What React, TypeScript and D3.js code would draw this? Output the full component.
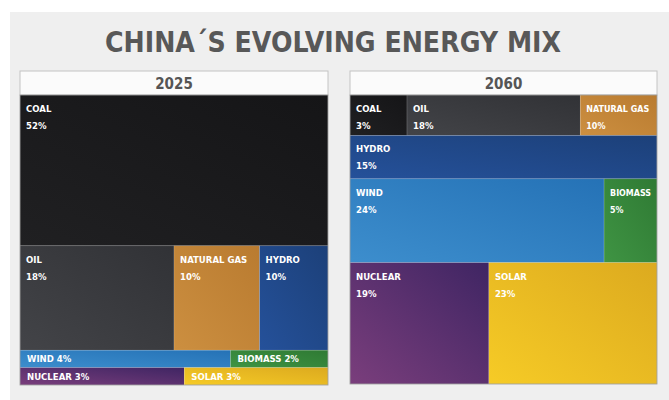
import React from "react";
import * as d3 from "d3";

const title = "CHINA´S EVOLVING ENERGY MIX";
const years = ["2025", "2060"];

const sources2025 = ["COAL", "OIL", "NATURAL GAS", "HYDRO", "WIND", "BIOMASS", "NUCLEAR", "SOLAR"];
const rows2025 = [0, 1, 1, 1, 2, 2, 3, 3];
const values2025 = [52, 18, 10, 8, 4.1, 1.9, 3.2, 2.8];
const labels2025 = ["52%", "18%", "10%", "10%", "4%", "2%", "3%", "3%"];

const sources2060 = ["COAL", "OIL", "NATURAL GAS", "HYDRO", "WIND", "BIOMASS", "NUCLEAR", "SOLAR"];
const rows2060 = [0, 0, 0, 1, 2, 2, 3, 3];
const values2060 = [2.6, 7.9, 3.5, 15, 24, 5, 19, 23];
const labels2060 = ["3%", "18%", "10%", "15%", "24%", "5%", "19%", "23%"];

const W = 669;
const H = 400;
const FONT = "'DejaVu Sans Condensed', 'Liberation Sans Narrow', sans-serif";

const colors: Record<string, [string, string]> = {
  COAL: ["#202022", "#151517"],
  OIL: ["#434448", "#313236"],
  "NATURAL GAS": ["#cc8f40", "#b97b30"],
  HYDRO: ["#25519a", "#1c4079"],
  WIND: ["#3d8ecd", "#2572b6"],
  BIOMASS: ["#3f9443", "#2f7a34"],
  NUCLEAR: ["#7a3e7c", "#3f2563"],
  SOLAR: ["#f6cb26", "#dcaa1f"],
};

type Tile = { name: string; value: number; label: string };

function buildRoot(sources: string[], rows: number[], values: number[], labels: string[]) {
  const nRows = d3.max(rows)! + 1;
  const rowArr: { children: Tile[] }[] = d3.range(nRows).map(() => ({ children: [] }));
  sources.forEach((s, i) => rowArr[rows[i]].children.push({ name: s, value: values[i], label: labels[i] }));
  return d3.hierarchy<any>({ children: rowArr }).sum((d: any) => d.value || 0);
}

const tile = (node: any, x0: number, y0: number, x1: number, y1: number) =>
  node.depth === 0 ? d3.treemapSlice(node, x0, y0, x1, y1) : d3.treemapDice(node, x0, y0, x1, y1);

function Panel({ x, y, w, h, year, sources, rows, values, labels, pid }: any) {
  const root = buildRoot(sources, rows, values, labels);
  d3.treemap<any>().size([w, h]).tile(tile as any).round(false)(root);
  const leaves = root.leaves() as any[];
  const headerH = 24;
  return (
    <g>
      <rect x={x} y={y - headerH} width={w} height={headerH} fill="#fbfbfb" stroke="#c4c4c4" strokeWidth={1} />
      <text x={x + w / 2} y={y - 6} textAnchor="middle" fontFamily={FONT} fontWeight="bold" fontSize={15} fill="#555">
        {year}
      </text>
      <g transform={`translate(${x},${y})`}>
        {leaves.map((l, i) => {
          const d = l.data as Tile;
          const tw = l.x1 - l.x0;
          const th = l.y1 - l.y0;
          const inline = th < 26;
          const gid = `g-${pid}-${i}`;
          let fs = 9.5;
          const need = d.name.length * 0.66 * fs;
          if (!inline && need > tw - 12) fs = (tw - 12) / (d.name.length * 0.66);
          return (
            <g key={i}>
              <defs>
                <linearGradient id={gid} x1="0" y1="1" x2="1" y2="0">
                  <stop offset="0" stopColor={colors[d.name][0]} />
                  <stop offset="1" stopColor={colors[d.name][1]} />
                </linearGradient>
              </defs>
              <rect x={l.x0} y={l.y0} width={tw} height={th} fill={`url(#${gid})`} stroke="rgba(255,255,255,0.22)" strokeWidth={0.6} />
              {inline ? (
                <text x={l.x0 + 7} y={l.y0 + th / 2 + 3.5} fontFamily={FONT} fontWeight="bold" fontSize={fs} fill="#fff">
                  {d.name} {d.label}
                </text>
              ) : (
                <text fontFamily={FONT} fontWeight="bold" fontSize={fs} fill="#fff">
                  <tspan x={l.x0 + 6} y={l.y0 + 17}>{d.name}</tspan>
                  <tspan x={l.x0 + 6} y={l.y0 + 34}>{d.label}</tspan>
                </text>
              )}
            </g>
          );
        })}
        <rect x={0} y={0} width={w} height={h} fill="none" stroke="#9a9a9a" strokeWidth={0.8} />
      </g>
    </g>
  );
}

export default function App() {
  return (
    <svg width={W} height={H} style={{ position: "absolute", left: 0, top: 0, background: "#fff" }}>
      <rect x={10} y={12} width={W - 10} height={H - 12} fill="#efefef" />
      <text
        x={333}
        y={52}
        textAnchor="middle"
        fontFamily={FONT}
        fontWeight="bold"
        fontSize={29}
        fill="#585858"
        textLength={456}
        lengthAdjust="spacingAndGlyphs"
      >
        {title}
      </text>
      <Panel x={20} y={95} w={308} h={290} year={years[0]} sources={sources2025} rows={rows2025} values={values2025} labels={labels2025} pid="a" />
      <Panel x={350} y={95} w={307} h={289} year={years[1]} sources={sources2060} rows={rows2060} values={values2060} labels={labels2060} pid="b" />
    </svg>
  );
}
